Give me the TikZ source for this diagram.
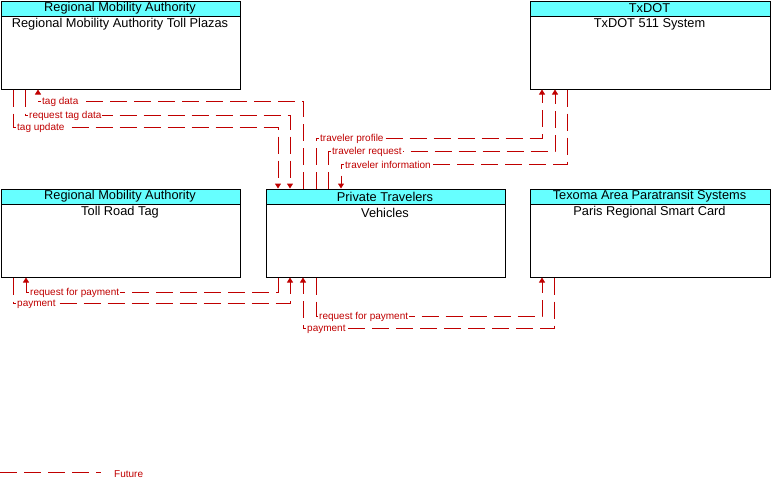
\documentclass[tikz,border=0pt]{standalone}
\usepackage{fontspec}
\setmainfont{Liberation Sans}
\usetikzlibrary{arrows.meta}
\definecolor{hdrcyan}{RGB}{102,255,255}
\definecolor{flowred}{RGB}{192,0,0}
\tikzset{
  box/.style={draw=black, line width=1pt, rectangle, minimum height=88pt, anchor=north west, inner sep=0pt},
  hdr/.style={draw=black, line width=1pt, fill=hdrcyan, rectangle, minimum height=15pt, anchor=north west, inner sep=0pt},
  hdrtxt/.style={font=\fontsize{12.8}{14}\selectfont, inner sep=0pt},
  bodytxt/.style={font=\fontsize{12.8}{14}\selectfont, inner sep=0pt},
  flow/.style={draw=flowred, line width=1pt, dash pattern=on 17pt off 7pt, -{Triangle[width=6pt,length=5pt]}},
  lbl/.style={font=\fontsize{10}{11}\selectfont, text=flowred, fill=white, inner sep=1pt, anchor=west},
}
\begin{document}
\begin{tikzpicture}[x=1pt,y=-1pt]
\useasboundingbox (0,0) rectangle (776,485);
% boxes
\node[box, minimum width=239pt] (plaza) at (0.5,0.5) {};
\node[hdr, minimum width=239pt] (plazah) at (0.5,0.5) {};
\node[hdrtxt] (plazaht) at (120,8.5) {Regional Mobility Authority};
\node[bodytxt] (plazat) at (120,24) {Regional Mobility Authority Toll Plazas};

\node[box, minimum width=240pt] (txdot) at (529.5,0.5) {};
\node[hdr, minimum width=240pt] (txdoth) at (529.5,0.5) {};
\node[hdrtxt] (txdotht) at (649.5,8.5) {TxDOT};
\node[bodytxt] (txdott) at (649.5,24) {TxDOT 511 System};

\node[box, minimum width=239pt] (tag) at (0.5,188.5) {};
\node[hdr, minimum width=239pt] (tagh) at (0.5,188.5) {};
\node[hdrtxt] (taght) at (120,196.5) {Regional Mobility Authority};
\node[bodytxt] (tagt) at (120,212.5) {Toll Road Tag};

\node[box, minimum width=239pt] (veh) at (265.5,188.5) {};
\node[hdr, minimum width=239pt] (vehh) at (265.5,188.5) {};
\node[hdrtxt] (vehht) at (385,196.5) {Private Travelers};
\node[bodytxt] (veht) at (385,212.5) {Vehicles};

\node[box, minimum width=240pt] (paris) at (529.5,188.5) {};
\node[hdr, minimum width=240pt] (parish) at (529.5,188.5) {};
\node[hdrtxt] (parisht) at (649.5,196.5) {Texoma Area Paratransit Systems};
\node[bodytxt] (parist) at (649.5,212.5) {Paris Regional Smart Card};

% flows top-left
\draw[flow] (303,0 |- veh.north) |- (38,101) -- (38,0 |- plaza.south);
\draw[flow] (25,0 |- plaza.south) |- (290,115) -- (290,0 |- veh.north);
\draw[flow] (13,0 |- plaza.south) |- (278,127) -- (278,0 |- veh.north);
% flows top-right
\draw[flow] (316,0 |- veh.north) |- (542,138) -- (542,0 |- txdot.south);
\draw[flow] (328,0 |- veh.north) |- (555,151) -- (555,0 |- txdot.south);
\draw[flow] (567,0 |- txdot.south) |- (341,164) -- (341,0 |- veh.north);
% flows bottom-left
\draw[flow] (278,0 |- veh.south) |- (26,292) -- (26,0 |- tag.south);
\draw[flow] (13,0 |- tag.south) |- (290,303) -- (290,0 |- veh.south);
% flows bottom-right
\draw[flow] (316,0 |- veh.south) |- (542,316) -- (542,0 |- paris.south);
\draw[flow] (554,0 |- paris.south) |- (303,328) -- (303,0 |- veh.south);

% labels
\node[lbl] (l1) at (41,102) {tag data};
\node[lbl] (l2) at (28,116) {request tag data};
\node[lbl] (l3) at (16,128) {tag update};
\node[lbl] (l4) at (319,139) {traveler profile};
\node[lbl] (l5) at (331,152) {traveler request};
\node[lbl] (l6) at (344,165) {traveler information};
\node[lbl] (l7) at (29,293) {request for payment};
\node[lbl] (l8) at (16,304) {payment};
\node[lbl] (l9) at (318,317) {request for payment};
\node[lbl] (l10) at (306,329) {payment};

% legend
\coordinate (legA) at (0,472);
\coordinate (legB) at (101,472);
\draw[draw=flowred, line width=1pt, dash pattern=on 17pt off 7pt] (legA) -- (legB);
\node[lbl, fill=none] (legT) at (113,474) {Future};
\end{tikzpicture}
\end{document}
